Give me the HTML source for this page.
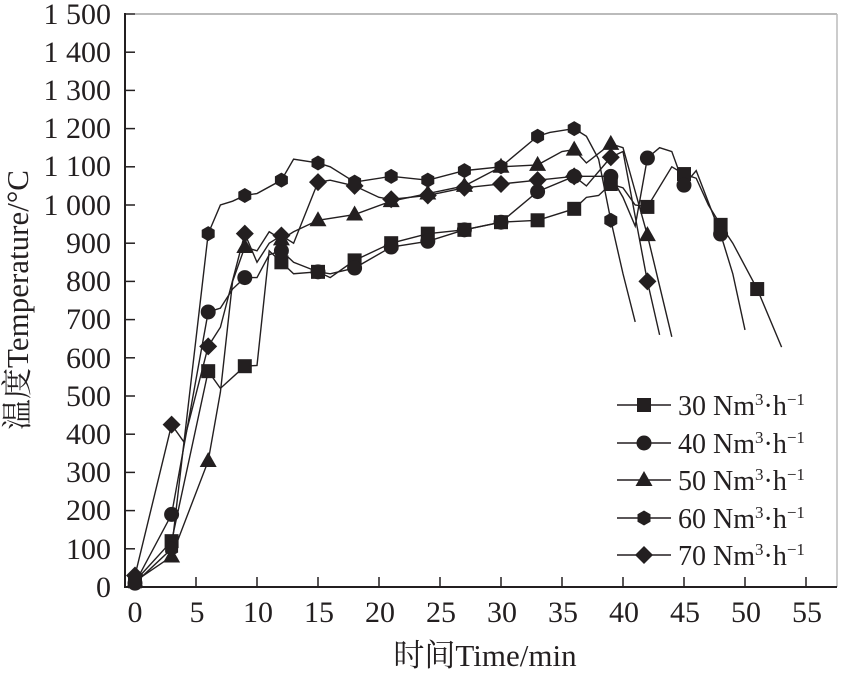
<!DOCTYPE html>
<html><head><meta charset="utf-8"><style>
html,body{margin:0;padding:0;background:#fff}
svg{display:block}
text{font-family:"Liberation Serif","Noto Serif CJK SC",serif;fill:#231f20}
</style></head><body>
<svg id="s" width="861" height="686" viewBox="0 0 861 686" xmlns="http://www.w3.org/2000/svg">
<g stroke="#231f20" fill="none">
<line x1="125" y1="14" x2="837" y2="14" stroke="#777" stroke-width="1"/>
<line x1="837" y1="14" x2="837" y2="587" stroke="#bbb" stroke-width="1.5"/>
<line x1="125" y1="13" x2="125" y2="588" stroke-width="2"/>
<line x1="124" y1="587" x2="837" y2="587" stroke-width="2"/>
</g>
<g id="ticks" stroke="#231f20" stroke-width="1.5"></g>
<g font-size="30" text-anchor="end">
<text x="111" y="24">1 500</text><text x="111" y="62">1 400</text><text x="111" y="100">1 300</text>
<text x="111" y="138">1 200</text><text x="111" y="176">1 100</text><text x="111" y="215">1 000</text>
<text x="111" y="253">900</text><text x="111" y="291">800</text><text x="111" y="329">700</text>
<text x="111" y="368">600</text><text x="111" y="406">500</text><text x="111" y="444">400</text>
<text x="111" y="482">300</text><text x="111" y="520">200</text><text x="111" y="559">100</text>
<text x="111" y="597">0</text>
</g>
<g font-size="30" text-anchor="middle">
<text x="135" y="622">0</text><text x="197" y="622">5</text><text x="258" y="622">10</text>
<text x="319" y="622">15</text><text x="380" y="622">20</text><text x="441" y="622">25</text>
<text x="502" y="622">30</text><text x="563" y="622">35</text><text x="624" y="622">40</text>
<text x="685" y="622">45</text><text x="746" y="622">50</text><text x="807" y="622">55</text>
</g>
<text x="485" y="666" font-size="31" text-anchor="middle">时间Time/min</text>
<text transform="translate(28,300) rotate(-90)" font-size="31" text-anchor="middle">温度Temperature/°C</text>
<g id="series" stroke="#231f20" stroke-width="1.4" fill="none"></g>
<g id="marks" fill="#231f20"></g>
<g font-size="28">
<text x="678" y="415">30 Nm<tspan font-size="17" dy="-10">3</tspan><tspan dy="10">·h</tspan><tspan font-size="17" dy="-10">−1</tspan></text>
<text x="678" y="453">40 Nm<tspan font-size="17" dy="-10">3</tspan><tspan dy="10">·h</tspan><tspan font-size="17" dy="-10">−1</tspan></text>
<text x="678" y="490">50 Nm<tspan font-size="17" dy="-10">3</tspan><tspan dy="10">·h</tspan><tspan font-size="17" dy="-10">−1</tspan></text>
<text x="678" y="528">60 Nm<tspan font-size="17" dy="-10">3</tspan><tspan dy="10">·h</tspan><tspan font-size="17" dy="-10">−1</tspan></text>
<text x="678" y="565">70 Nm<tspan font-size="17" dy="-10">3</tspan><tspan dy="10">·h</tspan><tspan font-size="17" dy="-10">−1</tspan></text>
</g>
</svg>
<script>
var NS="http://www.w3.org/2000/svg";
function X(t){return 135+12.2*t}function Y(v){return 587-0.382*v}
function el(p,n,a){var e=document.createElementNS(NS,n);for(var k in a)e.setAttribute(k,a[k]);document.getElementById(p).appendChild(e);return e}
for(var i=1;i<=15;i++){var y=Y(i*100);el("ticks","line",{x1:125,y1:y,x2:135,y2:y})}
for(var i=1;i<=11;i++){var x=X(i*5);el("ticks","line",{x1:x,y1:587,x2:x,y2:577})}
function mark(type,x,y){
 if(type=="s")el("marks","rect",{x:x-7,y:y-7,width:14,height:14});
 else if(type=="c")el("marks","circle",{cx:x,cy:y,r:7.5});
 else if(type=="t")el("marks","polygon",{points:(x)+","+(y-9)+" "+(x+8.5)+","+(y+6)+" "+(x-8.5)+","+(y+6)});
 else if(type=="h"){var p=[];for(var k=0;k<6;k++){var a=Math.PI/3*k+Math.PI/6;p.push((x+7.5*Math.cos(a))+","+(y+7.5*Math.sin(a)))}el("marks","polygon",{points:p.join(" ")})}
 else if(type=="d")el("marks","polygon",{points:x+","+(y-9)+" "+(x+9)+","+y+" "+x+","+(y+9)+" "+(x-9)+","+y});
}
var S=[
["s",[[0,15],[3,120],[6,565],[7,520],[9,578],[10,580],[11,880],[12,850],[13,820],[15,825],[16,810],[18,855],[21,900],[24,925],[27,935],[30,955],[33,960],[36,990],[37,1020],[38,1025],[39,1055],[40,1045],[41,1000],[42,995],[44,1100],[45,1081],[46,1070],[47,1000],[48,948],[49,900],[51,780],[53,628]]],
["c",[[0,10],[3,190],[6,720],[7,730],[8,780],[9,810],[10,810],[11,870],[12,880],[13,850],[15,825],[16,820],[18,835],[21,890],[24,905],[27,935],[30,955],[33,1035],[36,1075],[39,1075],[40,1020],[41,945],[42,1123],[43,1150],[44,1140],[45,1052],[46,1090],[48,924],[49,820],[50,673]]],
["t",[[0,15],[3,80],[6,330],[7,510],[8,800],[9,890],[10,880],[11,930],[12,910],[13,930],[15,960],[18,975],[21,1010],[24,1030],[27,1050],[30,1100],[33,1105],[35,1140],[36,1145],[37,1110],[39,1160],[40,1150],[42,921],[44,655]]],
["h",[[0,10],[3,100],[6,925],[7,1000],[8,1010],[9,1025],[10,1030],[12,1065],[13,1120],[15,1110],[16,1100],[18,1060],[21,1075],[24,1065],[27,1090],[30,1100],[33,1180],[34,1190],[36,1200],[37,1180],[38,1120],[39,960],[40,820],[41,694]]],
["d",[[0,30],[3,425],[4,380],[6,630],[7,680],[9,925],[10,850],[11,900],[12,920],[13,900],[15,1060],[16,1065],[18,1050],[20,1020],[21,1015],[24,1025],[27,1045],[30,1055],[33,1065],[36,1075],[37,1050],[39,1125],[40,1140],[42,800],[43,660]]]
];
S.forEach(function(s){
 el("series","polyline",{points:s[1].map(function(p){return X(p[0])+","+Y(p[1])}).join(" ")});
 s[1].forEach(function(p){if(p[0]%3==0)mark(s[0],X(p[0]),Y(p[1]))});
});
var ly=[405,443,480,518,555],tp=["s","c","t","h","d"];
ly.forEach(function(y,i){el("series","line",{x1:617,y1:y,x2:671,y2:y});mark(tp[i],644,y)});
</script>
</body></html>
